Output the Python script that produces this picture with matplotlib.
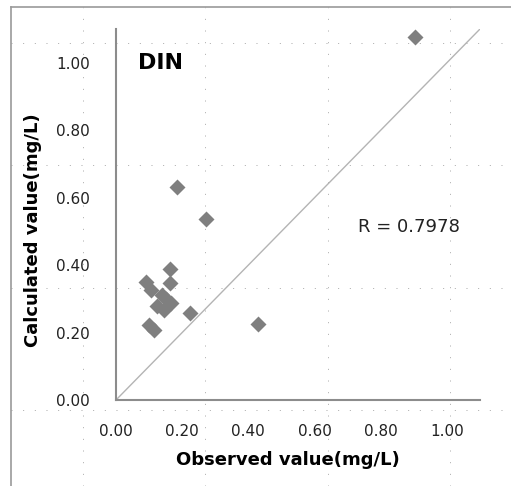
import numpy as np
import matplotlib
matplotlib.use("Agg")
import matplotlib.pyplot as plt
from matplotlib.lines import Line2D

# observed vs calculated DIN (mg/L)
observed = [0.904, 0.183, 0.271, 0.430, 0.224, 0.163, 0.090, 0.163, 0.105,
            0.140, 0.125, 0.166, 0.146, 0.150, 0.100, 0.115]
calculated = [1.077, 0.633, 0.536, 0.225, 0.257, 0.388, 0.351, 0.348, 0.326,
              0.310, 0.280, 0.287, 0.267, 0.300, 0.223, 0.208]

ticks = [0.0, 0.2, 0.4, 0.6, 0.8, 1.0]
tick_labels = ["0.00", "0.20", "0.40", "0.60", "0.80", "1.00"]
r_value = 0.7978

W, H = 511, 486
fig = plt.figure(figsize=(W / 100, H / 100), dpi=100)

# axes box in pixels: left 116, right 480, top 29, bottom 400
ax = fig.add_axes([116 / W, 1 - 400 / H, (480 - 116) / W, (400 - 29) / H])
ax.patch.set_visible(False)

ax.plot([0, 1.1], [0, 1.1], color="#b4b4b4", lw=1.0, zorder=1)
ax.plot(observed, calculated, "D", color="#7f7f7f", ms=8.5, mec="none", zorder=3)

ax.set_xlim(0, 1.1)
ax.set_ylim(0, 1.1)
ax.set_xticks(ticks)
ax.set_xticklabels(tick_labels)
ax.set_yticks(ticks)
ax.set_yticklabels(tick_labels)
ax.tick_params(axis="both", length=0, labelsize=11, colors="#222222")
ax.tick_params(axis="y", pad=19)
ax.tick_params(axis="x", pad=17)

for s in ["top", "right"]:
    ax.spines[s].set_visible(False)
for s in ["left", "bottom"]:
    ax.spines[s].set_color("#8c8c8c")
    ax.spines[s].set_linewidth(1.5)

ax.text(0.066, 1.0, "DIN", fontsize=16, fontweight="bold", va="center", ha="left")
ax.text(0.73, 0.513, f"R = {r_value}", fontsize=13, va="center", ha="left",
        color="#222222")

fig.text(288 / W, 1 - 460 / H, "Observed value(mg/L)", fontsize=13,
         fontweight="bold", ha="center", va="center")
fig.text(33 / W, 1 - 230 / H, "Calculated value(mg/L)", fontsize=13,
         fontweight="bold", ha="center", va="center", rotation=90)

# page frame and dotted page grid over the whole figure
fig.add_artist(Line2D([11 / W, 1], [1 - 7 / H, 1 - 7 / H], color="#9a9a9a", lw=1.2))
fig.add_artist(Line2D([11 / W, 11 / W], [0, 1 - 7 / H], color="#9a9a9a", lw=1.2))
for yp in [43, 165, 288, 410]:
    fig.add_artist(Line2D([11 / W, 1], [1 - yp / H, 1 - yp / H], color="#a8a8a8",
                          lw=0.7, ls=(0, (1, 11)), zorder=0))
for xp in [83, 205, 328, 450]:
    fig.add_artist(Line2D([xp / W, xp / W], [0, 1 - 7 / H], color="#a8a8a8",
                          lw=0.7, ls=(0, (1, 11)), zorder=0))

fig.savefig("out.png", dpi=100)
